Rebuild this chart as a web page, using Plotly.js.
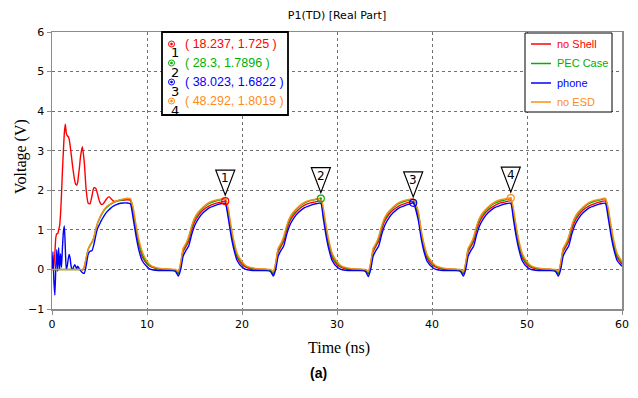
<!DOCTYPE html>
<html>
<head>
<meta charset="utf-8">
<script src="https://cdn.plot.ly/plotly-3.0.1.min.js"></script>
<style>
  html, body { margin: 0; padding: 0; background: #fff; }
  #chart { width: 638px; height: 398px; }
</style>
</head>
<body>
<div id="chart"></div>
<script>
// Port voltage P1(TD), real part, for four configurations (time in ns, volts)
const seriesNames = ['no Shell', 'PEC Case', 'phone', 'no ESD'];
const seriesColors = ['#ff0000', '#00b000', '#0000ff', '#ff8c1a'];

const timeNs = [
  0,0.1,0.2,0.3,0.4,0.5,0.6,0.7,0.8,0.9,1,1.1,1.2,1.3,1.4,1.5,1.6,1.7,1.8,1.9,2,2.1,2.2,2.3,2.4,2.5,2.6,2.7,2.8,2.9,3,
  3.2,3.4,3.6,3.8,4,4.2,4.4,4.6,4.8,5,5.2,5.4,5.6,5.8,6,6.2,6.4,6.6,6.8,7,7.5,7.9,8.25,8.55,8.85,9.15,9.5,
  10,10.4,10.9,11.6,12.5,13,13.3,13.55,13.8,14.1,14.4,14.7,15,15.4,15.9,16.5,17.2,17.6,18.237,18.55,18.85,19.15,19.5,
  20,20.4,20.9,21.6,22.5,23,23.3,23.55,23.8,24.1,24.4,24.7,25,25.4,25.9,26.5,27.2,27.6,28.3,28.55,28.85,29.15,29.5,
  30,30.4,30.9,31.6,32.5,33,33.3,33.55,33.8,34.1,34.4,34.7,35,35.4,35.9,36.5,37.2,37.6,38.023,38.55,38.85,39.15,39.5,
  40,40.4,40.9,41.6,42.5,43,43.3,43.55,43.8,44.1,44.4,44.7,45,45.4,45.9,46.5,47.2,47.6,48.292,48.55,48.85,49.15,49.5,
  50,50.4,50.9,51.6,52.5,53,53.3,53.55,53.8,54.1,54.4,54.7,55,55.4,55.9,56.5,57.2,57.6,58.25,58.55,58.85,59.15,59.5,60
];

const vNoShell = [
  0,0,0.1,0.4,0.8,0.9,0.9,1.0,1.1,1.4,1.9,2.5,3.0,3.45,3.67,3.45,3.38,3.36,3.3,3.15,2.95,2.75,2.55,2.38,2.23,2.15,2.13,2.2,2.4,2.6,2.85,
  3.1,2.7,2.0,1.68,1.66,1.85,2.06,2.05,1.9,1.72,1.64,1.66,1.73,1.8,1.84,1.79,1.74,1.72,1.73,1.74,1.75,1.76,1.75,1.42,0.97,0.62,0.32,
  0.14,0.07,0.03,0,-0.01,-0.03,-0.12,0.1,0.45,0.58,0.72,1.0,1.2,1.36,1.5,1.6,1.67,1.69,1.725,1.4,0.95,0.6,0.3,
  0.12,0.06,0.02,0,-0.01,-0.03,-0.13,0.09,0.44,0.58,0.71,0.99,1.2,1.36,1.5,1.61,1.68,1.7,1.73,1.42,0.96,0.6,0.3,
  0.12,0.06,0.02,0,-0.01,-0.03,-0.12,0.1,0.45,0.59,0.72,1.0,1.21,1.37,1.5,1.6,1.67,1.7,1.72,1.35,0.9,0.56,0.28,
  0.11,0.06,0.02,0,-0.01,-0.03,-0.12,0.1,0.45,0.58,0.72,1.0,1.2,1.36,1.5,1.6,1.68,1.7,1.73,1.42,0.96,0.6,0.3,
  0.12,0.06,0.02,0,-0.01,-0.03,-0.12,0.1,0.45,0.58,0.72,1.0,1.2,1.36,1.5,1.6,1.67,1.7,1.73,1.41,0.95,0.6,0.3,0.13
];

const vPecCase = [
  0,0,0,0,0,0,0,0,0,0,0,0,0,0,0,0,0,0,0,0,0,0,0,0,0,0,0,0,0,0,0,
  -0.02,0.06,0.28,0.5,0.6,0.68,0.8,1.0,1.17,1.28,1.38,1.46,1.53,1.58,1.62,1.65,1.68,1.7,1.72,1.74,1.76,1.78,1.77,1.5,1.05,0.68,0.38,
  0.17,0.09,0.04,0.01,0,-0.02,-0.08,0.15,0.5,0.63,0.8,1.07,1.27,1.42,1.55,1.66,1.73,1.75,1.78,1.48,1.03,0.66,0.35,
  0.16,0.08,0.04,0.01,0,-0.02,-0.08,0.15,0.5,0.63,0.8,1.07,1.27,1.42,1.56,1.67,1.74,1.76,1.7896,1.5,1.05,0.67,0.36,
  0.16,0.08,0.04,0.01,0,-0.02,-0.08,0.15,0.5,0.63,0.8,1.07,1.27,1.42,1.55,1.66,1.73,1.75,1.77,1.42,0.97,0.62,0.33,
  0.16,0.08,0.04,0.01,0,-0.02,-0.08,0.15,0.5,0.63,0.8,1.07,1.27,1.42,1.55,1.66,1.73,1.75,1.78,1.5,1.05,0.67,0.36,
  0.16,0.08,0.04,0.01,0,-0.02,-0.08,0.15,0.5,0.63,0.8,1.07,1.27,1.42,1.55,1.66,1.73,1.75,1.78,1.49,1.04,0.66,0.35,0.16
];

const vPhone = [
  0,0.45,-0.3,-0.65,0.05,0.5,-0.05,0.55,0,0.4,0.05,0.55,0.95,1.1,0.55,0,0.08,0.25,0.38,0.3,0.1,0,0.02,0.08,0.12,0.07,0.02,0.08,0.05,0,-0.03,
  -0.08,-0.1,0.1,0.38,0.46,0.47,0.62,0.85,1.04,1.14,1.24,1.32,1.4,1.46,1.51,1.55,1.59,1.62,1.64,1.66,1.68,1.68,1.66,1.28,0.84,0.48,0.22,
  0.07,0,-0.02,-0.03,-0.03,-0.05,-0.17,0,0.33,0.48,0.6,0.88,1.1,1.28,1.43,1.55,1.62,1.65,1.67,1.3,0.85,0.5,0.22,
  0.06,0,-0.02,-0.03,-0.03,-0.05,-0.17,0,0.33,0.48,0.6,0.88,1.1,1.28,1.43,1.55,1.62,1.65,1.67,1.3,0.85,0.5,0.22,
  0.06,0,-0.02,-0.03,-0.03,-0.05,-0.18,0,0.33,0.48,0.6,0.88,1.1,1.28,1.43,1.55,1.62,1.65,1.6822,1.25,0.8,0.46,0.2,
  0.06,0,-0.02,-0.03,-0.03,-0.05,-0.17,0,0.33,0.48,0.6,0.88,1.1,1.28,1.43,1.55,1.62,1.65,1.67,1.3,0.85,0.5,0.22,
  0.06,0,-0.02,-0.03,-0.03,-0.05,-0.17,0,0.33,0.48,0.6,0.88,1.1,1.28,1.43,1.55,1.62,1.65,1.67,1.3,0.85,0.5,0.22,0.08
];

const vNoEsd = [
  0,0,0,0,0,0,0,0,0,0,0,0,0,0,0,0,0,0,0,0,0,0,0,0,0,0,0,0,0,0,0,
  -0.02,0.08,0.3,0.5,0.62,0.7,0.8,1.0,1.18,1.3,1.4,1.48,1.55,1.6,1.63,1.66,1.69,1.71,1.73,1.75,1.78,1.8,1.79,1.55,1.12,0.75,0.45,
  0.21,0.1,0.05,0.02,0.01,0,-0.05,0.18,0.53,0.66,0.84,1.1,1.3,1.45,1.58,1.69,1.75,1.77,1.8,1.55,1.1,0.72,0.4,
  0.2,0.1,0.05,0.02,0.01,0,-0.05,0.18,0.53,0.66,0.84,1.1,1.3,1.45,1.58,1.69,1.75,1.77,1.8,1.56,1.11,0.73,0.41,
  0.2,0.1,0.05,0.02,0.01,0,-0.05,0.18,0.53,0.66,0.84,1.1,1.3,1.45,1.58,1.69,1.75,1.77,1.79,1.48,1.02,0.66,0.37,
  0.19,0.1,0.05,0.02,0.01,0,-0.05,0.18,0.53,0.66,0.84,1.1,1.3,1.45,1.58,1.69,1.76,1.78,1.8019,1.56,1.11,0.73,0.41,
  0.2,0.1,0.05,0.02,0.01,0,-0.05,0.18,0.53,0.66,0.84,1.1,1.3,1.45,1.58,1.69,1.75,1.77,1.8,1.55,1.1,0.72,0.4,0.2
];

// Marker readouts (time ns, voltage V), one per series in the order above
const markerT = [18.237, 28.3, 38.023, 48.292];
const markerV = [1.725, 1.7896, 1.6822, 1.8019];

const seriesValues = [vNoShell, vPecCase, vPhone, vNoEsd];

// ---- layout geometry (pixels) ----
const W = 638, H = 398;
const M = { l: 52, r: 16, t: 32, b: 89 };
const plotW = W - M.l - M.r, plotH = H - M.t - M.b;
const X = px => (px - M.l) / plotW;           // pixel column -> paper x
const Y = py => (H - M.b - py) / plotH;       // pixel row -> paper y

const traces = seriesValues.map((vals, i) => ({
  type: 'scatter', mode: 'lines', x: timeNs, y: vals, name: seriesNames[i],
  line: { color: seriesColors[i], width: 1.4, shape: 'spline', smoothing: 0.5 },
  showlegend: false, hoverinfo: 'skip'
}));

traces.push({
  type: 'scatter', mode: 'markers', x: markerT, y: markerV, showlegend: false,
  hoverinfo: 'skip',
  marker: { symbol: 'circle-open-dot', size: 7, color: seriesColors, line: { width: 1.2, color: seriesColors } }
});

const shapes = [];
const annotations = [];
const font = 'DejaVu Sans, Verdana, sans-serif';
const sans = 'Liberation Sans, Arial, sans-serif';

// marker readout box
shapes.push({ type: 'rect', xref: 'paper', yref: 'paper', x0: X(162), x1: X(288), y0: Y(115), y1: Y(32),
  line: { color: '#000', width: 1.8 }, fillcolor: '#fff', layer: 'above' });
const rowY = [44, 63, 82, 101];
markerT.forEach((t, i) => {
  shapes.push({ type: 'circle', xref: 'paper', yref: 'paper', xsizemode: 'pixel', ysizemode: 'pixel',
    xanchor: X(171.5), yanchor: Y(rowY[i]), x0: -3, x1: 3, y0: -3, y1: 3,
    line: { color: seriesColors[i], width: 1 }, layer: 'above' });
  shapes.push({ type: 'circle', xref: 'paper', yref: 'paper', xsizemode: 'pixel', ysizemode: 'pixel',
    xanchor: X(171.5), yanchor: Y(rowY[i]), x0: -1, x1: 1, y0: -1, y1: 1,
    line: { color: seriesColors[i], width: 0.8 }, fillcolor: seriesColors[i], layer: 'above' });
  annotations.push({ xref: 'paper', yref: 'paper', x: X(175), y: Y(rowY[i] + 9), text: String(i + 1),
    showarrow: false, xanchor: 'center', yanchor: 'middle', font: { family: font, size: 13, color: '#000' } });
  annotations.push({ xref: 'paper', yref: 'paper', x: X(183), y: Y(rowY[i]), text: '( ' + t + ', ' + markerV[i] + ' )',
    showarrow: false, xanchor: 'left', yanchor: 'middle', font: { family: sans, size: 12.5, color: seriesColors[i] } });

  // flag above each marked peak
  shapes.push({ type: 'path', xref: 'x', yref: 'y', xsizemode: 'pixel', ysizemode: 'pixel',
    xanchor: t, yanchor: markerV[i], path: 'M -9.5,31 L 9.5,31 L 0,6 Z',
    line: { color: '#000', width: 1.2 }, fillcolor: '#fff', layer: 'above' });
  annotations.push({ xref: 'x', yref: 'y', x: t, y: markerV[i], yshift: 23, text: String(i + 1),
    showarrow: false, xanchor: 'center', yanchor: 'middle', font: { family: font, size: 12, color: '#000' } });
});

// series key
shapes.push({ type: 'rect', xref: 'paper', yref: 'paper', x0: X(525), x1: X(612), y0: Y(112), y1: Y(33),
  line: { color: '#000', width: 1 }, fillcolor: '#fff', layer: 'above' });
const keyY = [44, 63.5, 83, 102];
seriesNames.forEach((name, i) => {
  shapes.push({ type: 'line', xref: 'paper', yref: 'paper', x0: X(531), x1: X(551), y0: Y(keyY[i]), y1: Y(keyY[i]),
    line: { color: seriesColors[i], width: 1.5 }, layer: 'above' });
  annotations.push({ xref: 'paper', yref: 'paper', x: X(555), y: Y(keyY[i]), text: name, showarrow: false,
    xanchor: 'left', yanchor: 'middle', font: { family: sans, size: 11, color: seriesColors[i] } });
});

// axis titles and caption
const serif = 'Liberation Serif, Times New Roman, serif';
annotations.push({ xref: 'paper', yref: 'paper', x: X(339), y: Y(348), text: 'Time (ns)', showarrow: false,
  xanchor: 'center', yanchor: 'middle', font: { family: serif, size: 16, color: '#000' } });
annotations.push({ xref: 'paper', yref: 'paper', x: X(21), y: Y(157), text: 'Voltage (V)', textangle: -90,
  showarrow: false, xanchor: 'center', yanchor: 'middle', font: { family: serif, size: 16, color: '#000' } });
annotations.push({ xref: 'paper', yref: 'paper', x: X(318), y: Y(373), text: '<b>(a)</b>', showarrow: false,
  xanchor: 'center', yanchor: 'middle', font: { family: sans, size: 14, color: '#000' } });

const axisCommon = {
  showgrid: true, gridcolor: '#707070', griddash: 'dot', gridwidth: 1,
  showline: true, mirror: true, linecolor: '#8c8c8c', linewidth: 1.5,
  ticks: 'outside', ticklen: 4, tickcolor: '#8c8c8c', zeroline: false,
  tickfont: { family: font, size: 11, color: '#000' }, fixedrange: true
};

const layout = {
  width: W, height: H, margin: M,
  paper_bgcolor: '#fff', plot_bgcolor: '#fff',
  showlegend: false,
  title: { text: 'P1(TD) [Real Part]', font: { family: font, size: 11, color: '#000' },
    xref: 'paper', x: 0.5, xanchor: 'center', yref: 'container', y: 1 - 15 / H, yanchor: 'middle' },
  xaxis: Object.assign({ range: [0, 60], dtick: 10, tick0: 0 }, axisCommon),
  yaxis: Object.assign({ range: [-1, 6], dtick: 1, tick0: 0 }, axisCommon),
  shapes: shapes,
  annotations: annotations
};

Plotly.newPlot('chart', traces, layout, { staticPlot: true, displayModeBar: false });
</script>
</body>
</html>
